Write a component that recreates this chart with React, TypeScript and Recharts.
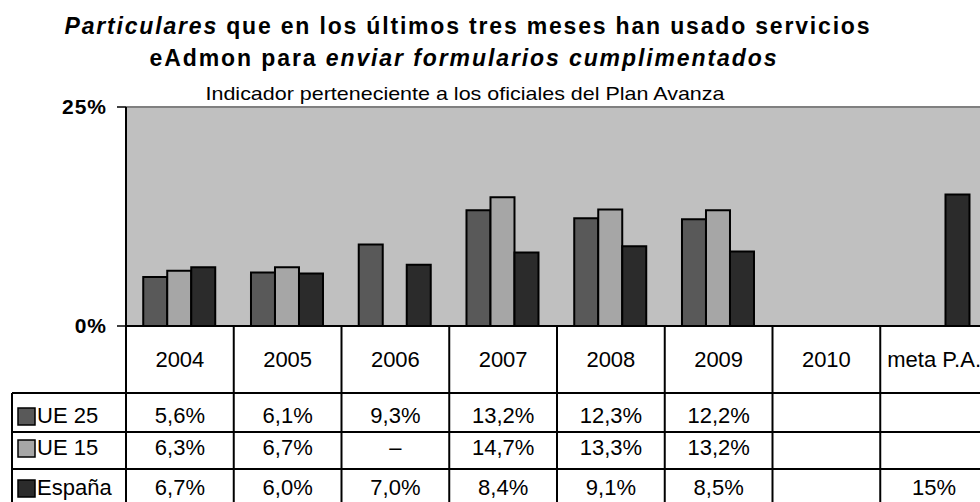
import { BarChart, Bar, XAxis, YAxis, CartesianGrid, ReferenceLine } from 'recharts';

const categories = ['2004', '2005', '2006', '2007', '2008', '2009', '2010', 'meta P.A.'];
const ue25 = [5.6, 6.1, 9.3, 13.2, 12.3, 12.2, null, null];
const ue15 = [6.3, 6.7, null, 14.7, 13.3, 13.2, null, null];
const espana = [6.7, 6.0, 7.0, 8.4, 9.1, 8.5, null, 15];
// columns where a missing value is shown as a dash in the table
const dashWhenMissing = ['2006'];
const yTicks = [0, 25];

const seriesList = [
  { key: 'ue25', name: 'UE 25', values: ue25, color: '#595959' },
  { key: 'ue15', name: 'UE 15', values: ue15, color: '#a6a6a6' },
  { key: 'espana', name: 'España', values: espana, color: '#2b2b2b' },
];

const data = categories.map((cat, i) => ({
  cat,
  ue25: ue25[i],
  ue15: ue15[i],
  espana: espana[i],
}));

const FONT = '"Liberation Sans", Arial, sans-serif';
const CHART_W = 1000;
const CHART_H = 502;
const PLOT_LEFT = 126;
const PLOT_RIGHT = 988;
const PLOT_TOP = 107;
const PLOT_BOTTOM = 326;
const COL_W = (PLOT_RIGHT - PLOT_LEFT) / categories.length;
const ROW_LINES = [393, 432, 469];
const ROW_BASE = [423, 455, 495];

function fmt(v: number | null, cat: string) {
  if (v == null) return dashWhenMissing.includes(cat) ? '–' : '';
  if (cat === 'meta P.A.') return `${v}%`;
  return `${v.toFixed(1).replace('.', ',')}%`;
}

function TableTick(props: any) {
  const { x, payload } = props;
  const cat = payload.value as string;
  const i = categories.indexOf(cat);
  const left = x - COL_W / 2;
  return (
    <g>
      <line x1={left} y1={PLOT_BOTTOM} x2={left} y2={CHART_H} stroke="#000" strokeWidth={2} />
      <text x={x} y={367} textAnchor="middle" fontSize={22} fontFamily={FONT} fill="#000">
        {cat}
      </text>
      {seriesList.map((s, r) => (
        <text key={s.key} x={x} y={ROW_BASE[r]} textAnchor="middle" fontSize={22} fontFamily={FONT} fill="#000">
          {fmt(s.values[i], cat)}
        </text>
      ))}
    </g>
  );
}

export default function App() {
  return (
    <div style={{ position: 'absolute', left: 0, top: 0, width: 980, height: 502, overflow: 'hidden', background: '#fff' }}>
      <BarChart
        width={CHART_W}
        height={CHART_H}
        data={data}
        margin={{ top: PLOT_TOP, right: CHART_W - PLOT_RIGHT, bottom: 0, left: 0 }}
        barCategoryGap="16%"
        barGap={0}
      >
        <CartesianGrid fill="#c0c0c0" horizontal={false} vertical={false} />
        <ReferenceLine y={25} stroke="#808080" strokeWidth={2} />
        <XAxis
          dataKey="cat"
          interval={0}
          height={CHART_H - PLOT_BOTTOM}
          tickLine={false}
          axisLine={{ stroke: '#000', strokeWidth: 2 }}
          tick={<TableTick />}
        />
        <YAxis
          width={PLOT_LEFT}
          domain={[0, 25]}
          ticks={yTicks}
          tickFormatter={(v) => `${v}%`}
          tickSize={9}
          tickMargin={10}
          tickLine={{ stroke: '#000', strokeWidth: 1.5 }}
          axisLine={{ stroke: '#000', strokeWidth: 2 }}
          tick={{ fontSize: 21, fontWeight: 'bold', fill: '#000', fontFamily: FONT, letterSpacing: 1 }}
        />
        {seriesList.map((s) => (
          <Bar key={s.key} dataKey={s.key} name={s.name} fill={s.color} stroke="#000" strokeWidth={2} isAnimationActive={false} />
        ))}
      </BarChart>
      <svg width={980} height={502} style={{ position: 'absolute', left: 0, top: 0, pointerEvents: 'none' }}>
        <text x={467} y={34} textAnchor="middle" fontSize={23} fontWeight="bold" fontFamily={FONT} textLength={805} lengthAdjust="spacing">
          <tspan fontStyle="italic">Particulares</tspan> que en los últimos tres meses han usado servicios
        </text>
        <text x={463} y={66} textAnchor="middle" fontSize={23} fontWeight="bold" fontFamily={FONT} textLength={627} lengthAdjust="spacing">
          eAdmon para <tspan fontStyle="italic">enviar formularios cumplimentados</tspan>
        </text>
        <text x={465} y={100} textAnchor="middle" fontSize={19} fontFamily={FONT} textLength={519} lengthAdjust="spacingAndGlyphs">
          Indicador perteneciente a los oficiales del Plan Avanza
        </text>
        {ROW_LINES.map((y) => (
          <line key={y} x1={12} y1={y} x2={980} y2={y} stroke="#000" strokeWidth={2} />
        ))}
        <line x1={12} y1={ROW_LINES[0]} x2={12} y2={502} stroke="#000" strokeWidth={2} />
        {seriesList.map((s, r) => (
          <g key={s.key}>
            <rect x={18} y={ROW_BASE[r] - 15} width={17} height={17} fill={s.color} stroke="#000" strokeWidth={1.5} />
            <text x={37} y={ROW_BASE[r]} fontSize={22} fontFamily={FONT} fill="#000">
              {s.name}
            </text>
          </g>
        ))}
      </svg>
    </div>
  );
}
